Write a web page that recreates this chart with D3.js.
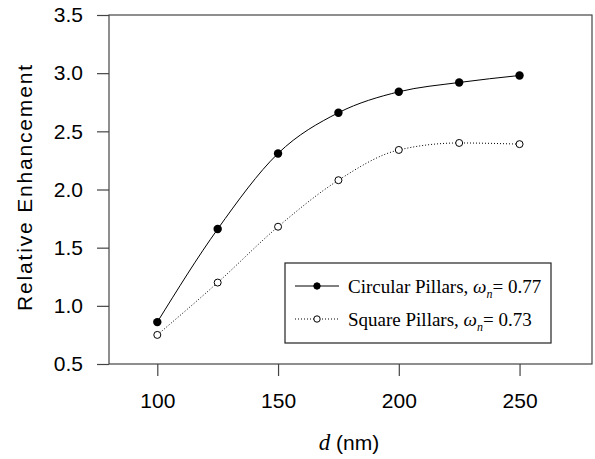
<!DOCTYPE html>
<html><head><meta charset="utf-8">
<script src="https://cdn.jsdelivr.net/npm/d3@7"></script>
<style>body{margin:0;background:#fff}svg{display:block}</style>
</head><body>
<svg id="c" width="595" height="459"></svg>
<script>
const dValues = [100, 125, 150, 175, 200, 225, 250];
const circular = [0.86, 1.66, 2.31, 2.66, 2.84, 2.92, 2.98];
const square = [0.75, 1.20, 1.68, 2.08, 2.34, 2.40, 2.39];
const xTicks = [100, 150, 200, 250];
const yTicks = [0.5, 1.0, 1.5, 2.0, 2.5, 3.0, 3.5];

const svg = d3.select("#c");
const L = 109, R = 592, T = 15, B = 364;
const x = d3.scaleLinear().domain([80, 280]).range([L, R]);
const y = d3.scaleLinear().domain([0.5, 3.5]).range([B, T]);
const axisColor = "#444";
const sans = "Liberation Sans, Arial, sans-serif";
const serif = "Liberation Serif, Times New Roman, serif";

// frame
svg.append("rect").attr("x", L).attr("y", T).attr("width", R - L).attr("height", B - T)
  .attr("fill", "none").attr("stroke", axisColor).attr("stroke-width", 1.2);

const xa = svg.append("g").attr("transform", `translate(0,${B})`)
  .call(d3.axisBottom(x).tickValues(xTicks).tickSize(12).tickPadding(17).tickFormat(d3.format("d")));
const ya = svg.append("g").attr("transform", `translate(${L},0)`)
  .call(d3.axisLeft(y).tickValues(yTicks).tickSize(12).tickPadding(14).tickFormat(d3.format(".1f")));
[xa, ya].forEach(g => {
  g.select(".domain").remove();
  g.selectAll("line").attr("stroke", axisColor).attr("stroke-width", 1.2);
  g.selectAll("text").attr("fill", "#000").style("font-family", sans).style("font-size", "21px");
});

// axis titles
svg.append("text").attr("transform", "translate(32,188) rotate(-90)").attr("text-anchor", "middle")
  .attr("textLength", 246).attr("lengthAdjust", "spacing")
  .style("font-family", sans).style("font-size", "21px").text("Relative Enhancement");
const xt = svg.append("text").attr("x", 349).attr("y", 450).attr("text-anchor", "middle")
  .style("font-family", sans).style("font-size", "21px");
xt.append("tspan").style("font-family", serif).style("font-style", "italic").style("font-size", "23px").text("d");
xt.append("tspan").text(" (nm)");

const line = d3.line().x((d, i) => x(dValues[i])).y(d => y(d)).curve(d3.curveMonotoneX);

svg.append("path").datum(circular).attr("d", line).attr("fill", "none").attr("stroke", "#000").attr("stroke-width", 1);
svg.append("path").datum(square).attr("d", line).attr("fill", "none").attr("stroke", "#000").attr("stroke-width", 1).attr("stroke-dasharray", "1,2");

svg.selectAll(".cm").data(circular).enter().append("circle")
  .attr("cx", (d, i) => x(dValues[i])).attr("cy", d => y(d)).attr("r", 4.2).attr("fill", "#000");
svg.selectAll(".sm").data(square).enter().append("circle")
  .attr("cx", (d, i) => x(dValues[i])).attr("cy", d => y(d)).attr("r", 3.5).attr("fill", "#fff").attr("stroke", "#000").attr("stroke-width", 1);

// legend
const lg = svg.append("g");
lg.append("rect").attr("x", 285).attr("y", 263).attr("width", 266).attr("height", 80)
  .attr("fill", "#fff").attr("stroke", "#222").attr("stroke-width", 1.2);
const items = [
  {label: "Circular Pillars, ", val: "= 0.77", fill: "#000", dash: null, y: 286},
  {label: "Square Pillars, ", val: "= 0.73", fill: "#fff", dash: "1,2", y: 319}
];
items.forEach(it => {
  lg.append("line").attr("x1", 295).attr("x2", 339).attr("y1", it.y).attr("y2", it.y)
    .attr("stroke", "#000").attr("stroke-width", 1).attr("stroke-dasharray", it.dash);
  lg.append("circle").attr("cx", 317).attr("cy", it.y).attr("r", 3.2).attr("fill", it.fill).attr("stroke", "#000");
  const t = lg.append("text").attr("x", 348).attr("y", it.y + 7)
    .style("font-family", serif).style("font-size", "19px");
  t.append("tspan").text(it.label);
  t.append("tspan").style("font-style", "italic").text("ω");
  t.append("tspan").style("font-style", "italic").style("font-size", "12px").attr("dy", 5).text("n");
  t.append("tspan").attr("dy", -5).text(it.val);
});
</script>
</body></html>
